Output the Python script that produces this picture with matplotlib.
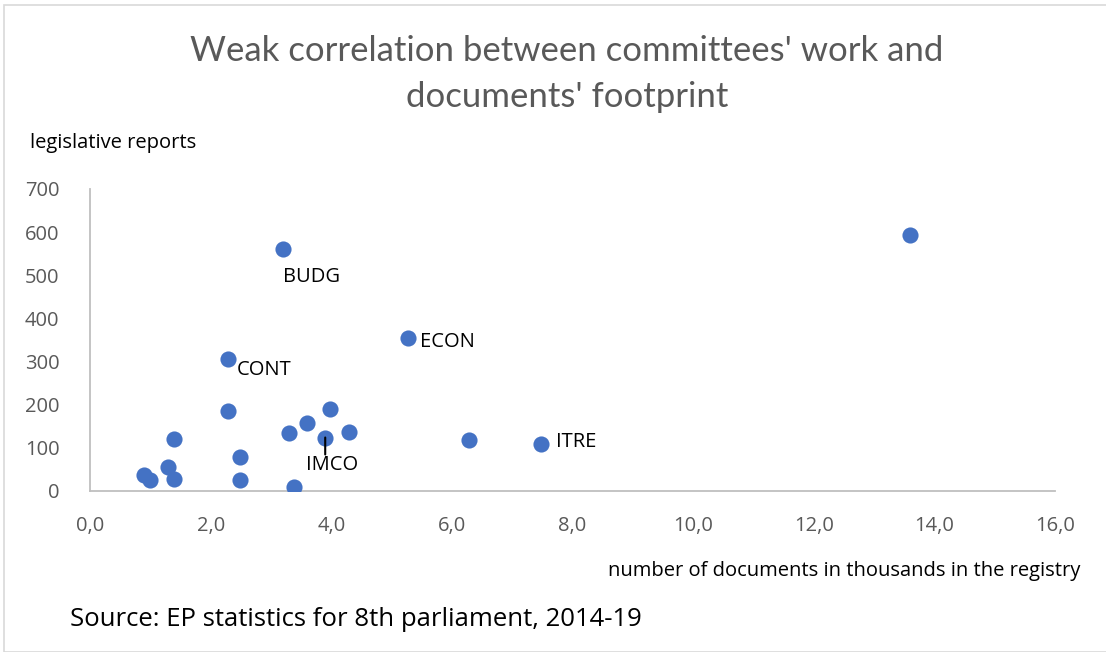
import matplotlib
matplotlib.use("Agg")
import matplotlib.pyplot as plt
from matplotlib.ticker import FuncFormatter
from matplotlib.patches import Rectangle

docs_k = [13.6, 3.2, 5.27, 2.29, 2.29, 1.39, 1.29, 0.9, 1.0, 1.39, 2.49, 2.49, 3.38, 3.3, 3.6, 3.9, 3.98, 4.3, 6.28, 7.48]
reports = [593, 561, 354, 306, 185, 120, 56, 37, 25, 28, 79, 25, 9, 135, 158, 124, 190, 137, 118, 110]
labels = {"BUDG": (3.2, 561), "ECON": (5.27, 354), "CONT": (2.29, 306), "ITRE": (7.48, 110), "IMCO": (3.9, 124)}
x_ticks = [0, 2, 4, 6, 8, 10, 12, 14, 16]
y_ticks = [0, 100, 200, 300, 400, 500, 600, 700]

plt.rcParams['font.family'] = ['Open Sans', 'DejaVu Sans']
W, H = 1106, 652
fig = plt.figure(figsize=(W/100, H/100), dpi=100)
fig.patches.append(Rectangle((4/W, 0), 1.2, (H-5)/H, transform=fig.transFigure,
                             fill=False, edgecolor='#D9D9D9', linewidth=1.2))
ax = fig.add_axes([90/W, (H-491)/H, (1055-90)/W, (491-189)/H])
ax.scatter(docs_k, reports, s=135, color='#4472C4', zorder=3, linewidths=0)
ax.set_xlim(0, 16)
ax.set_ylim(0, 700)
ax.set_xticks(x_ticks)
ax.set_yticks(y_ticks)
ax.xaxis.set_major_formatter(FuncFormatter(lambda v, p: f"{v:.1f}".replace('.', ',')))
for s in ['top', 'right']:
    ax.spines[s].set_visible(False)
for s in ['left', 'bottom']:
    ax.spines[s].set_color('#BFBFBF')
    ax.spines[s].set_linewidth(1.3)
ax.tick_params(length=0, labelsize=14.5, labelcolor='#595959')
ax.tick_params(axis='x', pad=18)
ax.tick_params(axis='y', pad=22)

offsets = {"BUDG": (0, -28), "ECON": (12, -4), "CONT": (9, -11), "ITRE": (15, 2), "IMCO": (7, -27)}
for name, (x, y) in labels.items():
    dx, dy = offsets[name]
    ha = 'center' if name == 'IMCO' else 'left'
    ax.annotate(name, (x, y), xytext=(dx*0.72, dy*0.72), textcoords='offset points',
                ha=ha, va='center', fontsize=14.5, color='black')
# IMCO leader line
ax.annotate("", (3.9, 124), xytext=(0, -17*0.72), textcoords='offset points',
            arrowprops=dict(arrowstyle='-', color='black', lw=1.5, shrinkA=0, shrinkB=0))

fig.text(567/W, 1-74/H, "Weak correlation between committees' work and\ndocuments' footprint",
         ha='center', va='center', fontsize=25, color='#595959', linespacing=1.55,
         family=['Lato', 'DejaVu Sans'])
fig.text(30/W, 1-143/H, "legislative reports", ha='left', va='center', fontsize=14.5, color='black')
fig.text(1080/W, 1-571/H, "number of documents in thousands in the registry", ha='right', va='center',
         fontsize=14.5, color='black')
fig.text(70/W, 1-620/H, "Source: EP statistics for 8th parliament, 2014-19", ha='left', va='center',
         fontsize=18.5, color='black')
fig.savefig("out.png", dpi=100)
